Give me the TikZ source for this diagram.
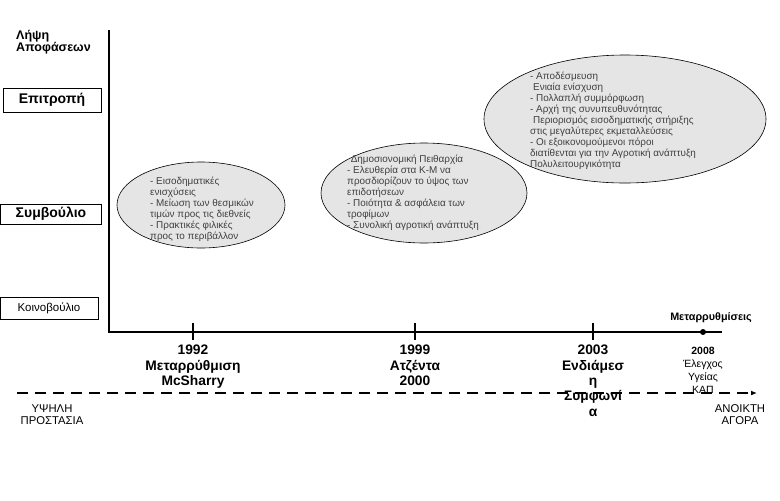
\documentclass[tikz,border=0pt]{standalone}
\usepackage{fontspec}
\setmainfont{Liberation Sans}
\usetikzlibrary{arrows.meta,shapes.geometric}
\begin{document}
\begin{tikzpicture}[x=1pt,y=-1pt,
  axis/.style={line width=2pt},
  lvlbox/.style={draw, line width=0.8pt, inner sep=0pt},
  bubble/.style={ellipse, draw, fill=gray!20, line width=0.6pt, inner sep=0pt},
  bubtxt/.style={font=\fontsize{9.9}{11}\selectfont, text=black!75, align=left, inner sep=0pt, anchor=north west},
  yearlbl/.style={font=\bfseries\fontsize{13.8}{15.3}\selectfont, align=center, anchor=north, inner sep=0pt},
  sidelbl/.style={font=\fontsize{11.3}{12}\selectfont, align=center, inner sep=0pt},
  tickmark/.style={line width=2pt},
  dot/.style={circle, fill=black, inner sep=0pt, minimum size=6pt}
]
\useasboundingbox (0,0) rectangle (780,501);
% title
\node[font=\bfseries\fontsize{12.5}{12.5}\selectfont, align=left, anchor=north west, inner sep=0pt] (title) at (16,30) {Λήψη\\Αποφάσεων};
% level boxes
\node[lvlbox, minimum width=98pt, minimum height=24pt, font=\bfseries\fontsize{14}{15}\selectfont] (epi) at (52,100) {Επιτροπή};
\node[lvlbox, minimum width=101pt, minimum height=20pt, font=\bfseries\fontsize{14}{15}\selectfont] (sym) at (51,214) {Συμβούλιο};
\node[lvlbox, minimum width=98pt, minimum height=22pt, font=\fontsize{11.5}{13}\selectfont] (koi) at (49,308) {Κοινοβούλιο};
% axes
\coordinate (ytop) at (109,30);
\coordinate (orig) at (109,332);
\coordinate (xend) at (722,332);
\draw[axis] (ytop) -- (orig) -- (xend);
\coordinate (t1) at (193,332);
\coordinate (t2) at (415,332);
\coordinate (t3) at (593,332);
\foreach \t in {t1,t2,t3} \draw[tickmark] (\t) ++(0,-9) -- ++(0,17);
\node[dot] (d4) at (703,332) {};
\node[font=\bfseries\fontsize{10.8}{12}\selectfont, inner sep=0pt] (metlbl) at (711,318) {Μεταρρυθμίσεις};
% bubbles
\node[bubble, minimum width=282pt, minimum height=128pt] (e3) at (625,119) {};
\node[bubble, minimum width=206pt, minimum height=100pt] (e2) at (424,193) {};
\node[bubble, minimum width=168pt, minimum height=86pt] (e1) at (201,205) {};
\node[bubtxt] (b1) at (150,177) {- Εισοδηματικές\\ενισχύσεις\\- Μείωση των θεσμικών\\τιμών προς τις διεθνείς\\- Πρακτικές φιλικές\\προς το περιβάλλον};
\node[bubtxt, anchor=center] (b2t) at (407,160) {Δημοσιονομική Πειθαρχία};
\node[bubtxt] (b2) at (347,166) {- Ελευθερία στα Κ-Μ να\\προσδιορίζουν το ύψος των\\επιδοτήσεων\\- Ποιότητα \& ασφάλεια των\\τροφίμων\\- Συνολική αγροτική ανάπτυξη};
\node[bubtxt] (b3) at (530,72) {- Αποδέσμευση\\\hspace*{3pt}Ενιαία ενίσχυση\\- Πολλαπλή συμμόρφωση\\- Αρχή της συνυπευθυνότητας\\\hspace*{3pt}Περιορισμός εισοδηματικής στήριξης\\στις μεγαλύτερες εκμεταλλεύσεις\\- Οι εξοικονομούμενοι πόροι\\διατίθενται για την Αγροτική ανάπτυξη\\Πολυλειτουργικότητα};
% year labels
\node[yearlbl] (y1) at (193,345) {1992\\Μεταρρύθμιση\\McSharry};
\node[yearlbl] (y2) at (415,345) {1999\\Ατζέντα\\2000};
\node[yearlbl] (y3) at (593,345) {2003\\Ενδιάμεσ\\η\\Συμφωνί\\α};
\node[font=\fontsize{10.5}{13}\selectfont, align=center, anchor=north, inner sep=0pt] (y4) at (703,347) {\textbf{2008}\\Έλεγχος\\Υγείας\\ΚΑΠ};
% protection line
\coordinate (ls) at (17,393);
\coordinate (le) at (757,393);
\draw[line width=1.2pt, dash pattern=on 11pt off 7pt, -{Latex[length=6pt,width=5pt]}] (ls) -- (le);
\node[sidelbl] (hp) at (52,415) {ΥΨΗΛΗ\\ΠΡΟΣΤΑΣΙΑ};
\node[sidelbl] (ao) at (740,415) {ΑΝΟΙΚΤΗ\\ΑΓΟΡΑ};
\end{tikzpicture}
\end{document}
